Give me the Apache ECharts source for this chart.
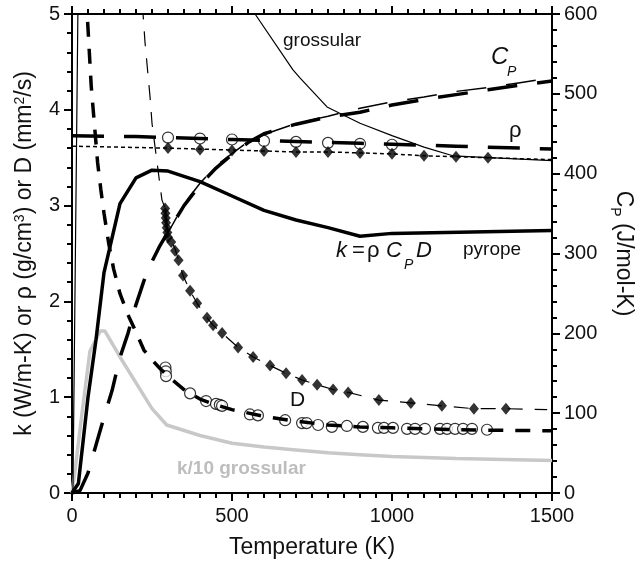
<!DOCTYPE html>
<html>
<head>
<meta charset="utf-8">
<script src="https://cdn.jsdelivr.net/npm/echarts@6/dist/echarts.min.js"></script>
<style>html,body{margin:0;padding:0;background:#fff}#c{width:635px;height:570px}</style>
</head>
<body>
<div id="c"></div>
<script>
// ---- data: [temperature (K), value] ----
const kPyrope = [[0,0],[20,0.1],[50,1.0],[75,1.6],[100,2.3],[150,3.02],[200,3.29],[250,3.37],[300,3.36],[400,3.25],[500,3.1],[600,2.95],[700,2.85],[800,2.77],[900,2.68],[1000,2.71],[1500,2.74]];
const kGrossular = [[0,0],[3,0.05],[19,5.2],[50,14],[100,17],[200,11.5],[300,7.1],[400,6.0],[500,5.4],[572,5.0],[690,4.42],[713,4.33],[797,4.03],[900,3.86],[1000,3.73],[1100,3.61],[1190,3.52],[1500,3.47]];
const kGrossular10 = [[0,0],[10,0.25],[30,0.8],[56,1.48],[88,1.69],[103,1.69],[150,1.42],[200,1.15],[250,0.88],[296,0.71],[400,0.6],[500,0.52],[600,0.48],[700,0.45],[800,0.42],[900,0.4],[1000,0.38],[1200,0.36],[1500,0.34]];
const cpPyrope = [[0,0],[25,3],[50,25],[75,60],[100,95],[125,128],[150,170],[175,200],[200,236],[225,266],[250,290],[275,310],[300,327],[350,360],[400,386],[450,407],[500,424],[550,439],[600,450],[700,462],[800,471],[900,477],[1000,486],[1100,493],[1200,499],[1300,505],[1400,511],[1500,516]];
const cpGrossular = [[300,326],[350,362],[400,388],[450,410],[500,425],[550,440],[600,449],[700,463],[800,472],[900,482],[1000,490],[1100,496],[1200,503],[1300,508],[1400,514],[1500,520]];
const rhoLine = [[0,3.73],[100,3.725],[200,3.72],[300,3.71],[400,3.70],[500,3.69],[600,3.68],[700,3.67],[800,3.66],[900,3.65],[1000,3.64],[1200,3.62],[1500,3.59]];
const rhoCircles = [[300,3.71],[400,3.70],[500,3.69],[600,3.675],[700,3.665],[800,3.655],[900,3.645],[1000,3.635]];
const rhoDotted = [[0,3.62],[300,3.60],[400,3.59],[500,3.58],[600,3.57],[700,3.56],[800,3.56],[900,3.55],[1000,3.54],[1100,3.52],[1200,3.51],[1300,3.50],[1500,3.48]];
const rhoDiamonds = [[300,3.60],[400,3.585],[500,3.575],[600,3.57],[700,3.56],[800,3.56],[900,3.55],[1000,3.54],[1100,3.52],[1200,3.51],[1300,3.50]];
const dThickLine = [[44,5.2],[50,4.85],[60,4.25],[70,3.85],[80,3.45],[90,3.17],[100,2.92],[115,2.6],[130,2.34],[150,2.08],[175,1.86],[200,1.68],[225,1.49],[250,1.39],[275,1.3],[300,1.22],[350,1.08],[400,0.98],[450,0.92],[500,0.87],[600,0.8],[700,0.75],[800,0.71],[900,0.69],[1000,0.68],[1100,0.67],[1200,0.66],[1300,0.655],[1500,0.65]];
const dCircles = [[292,1.31],[293,1.27],[294,1.22],[369,1.04],[419,0.96],[450,0.93],[462,0.92],[469,0.91],[556,0.82],[581,0.81],[666,0.76],[719,0.73],[733,0.73],[769,0.71],[812,0.69],[859,0.70],[909,0.69],[956,0.68],[975,0.68],[1003,0.68],[1047,0.67],[1072,0.67],[1103,0.67],[1150,0.67],[1172,0.67],[1197,0.67],[1222,0.67],[1250,0.67],[1297,0.66]];
const dThinLine = [[220,5.1],[228,4.71],[244,4.13],[250,3.86],[265,3.47],[281,3.06],[291,2.97],[300,2.7],[322,2.55],[347,2.27],[369,2.11],[391,1.98],[422,1.83],[441,1.75],[469,1.67],[519,1.52],[566,1.42],[619,1.33],[669,1.25],[719,1.18],[766,1.13],[816,1.08],[863,1.05],[959,0.97],[1059,0.94],[1156,0.91],[1256,0.88],[1356,0.88],[1485,0.87]];
const dDiamonds = [[291,2.97],[292,2.92],[293,2.87],[294,2.82],[296,2.77],[298,2.72],[300,2.67],[310,2.62],[322,2.53],[333,2.43],[347,2.27],[369,2.11],[391,1.98],[422,1.83],[441,1.75],[469,1.67],[519,1.52],[566,1.42],[619,1.33],[669,1.25],[719,1.18],[766,1.13],[816,1.08],[863,1.05],[959,0.97],[1059,0.94],[1156,0.91],[1256,0.88],[1356,0.88]];

const FONT = '"Liberation Sans", Arial, sans-serif';
const chart = echarts.init(document.getElementById('c'));
function axLine() { return {show: true, onZero: false, lineStyle: {color: '#000', width: 2}}; }
function axTick() { return {show: true, length: 8, lineStyle: {color: '#000', width: 2}}; }
function mTick(n) { return {show: true, splitNumber: n, length: 5, lineStyle: {color: '#000', width: 2}}; }
function axLabel(m) { return {show: true, color: '#111', fontSize: 20, fontFamily: FONT, margin: m, formatter: v => String(v)}; }
function line(id, data, opts) {
  return Object.assign({id: id, type: 'line', data: data, symbol: 'none', smooth: false, animation: false, clip: true,
    lineStyle: {color: '#000', width: 3.5}}, opts);
}
function label(text, left, top, size, extra) {
  return {text: text, left: left, top: top, padding: 0,
    textStyle: Object.assign({fontSize: size, color: '#111', fontFamily: FONT, fontWeight: 'normal'}, extra || {})};
}
chart.setOption({
  animation: false,
  grid: {left: 72, right: 83, top: 14, bottom: 77, outerBoundsMode: 'none'},
  title: [
    label('grossular', 283, 31, 19),
    label('C', 491, 45, 24, {fontStyle: 'italic'}),
    label('P', 507, 65, 14, {fontStyle: 'italic'}),
    label('ρ', 509, 120, 22),
    label('k', 336, 240, 22, {fontStyle: 'italic'}),
    label('=', 352, 240, 22),
    label('ρ', 367, 240, 22),
    label('C', 386, 240, 22, {fontStyle: 'italic'}),
    label('P', 404, 258, 14, {fontStyle: 'italic'}),
    label('D', 416, 240, 22, {fontStyle: 'italic'}),
    label('pyrope', 463, 240, 19),
    label('D', 290, 390, 21),
    label('k/10 grossular', 177, 459, 19, {fontWeight: 'bold', color: '#bdbdbd'})
  ],
  xAxis: [
    {type: 'value', min: 0, max: 1500, interval: 500, position: 'bottom',
      axisLine: axLine(), axisTick: axTick(), minorTick: mTick(10), splitLine: {show: false},
      axisLabel: axLabel(13),
      name: 'Temperature (K)', nameLocation: 'middle', nameGap: 43,
      nameTextStyle: {fontSize: 23, color: '#111', fontFamily: FONT}},
    {type: 'value', min: 0, max: 1500, interval: 500, position: 'top',
      axisLine: axLine(), axisTick: axTick(), minorTick: mTick(10), splitLine: {show: false},
      axisLabel: {show: false}}
  ],
  yAxis: [
    {type: 'value', min: 0, max: 5, interval: 1, position: 'left',
      axisLine: axLine(), axisTick: axTick(), minorTick: mTick(5), splitLine: {show: false},
      axisLabel: axLabel(12),
      name: 'k (W/m-K) or ρ (g/cm{sup|3}) or D (mm{sup|2}/s)', nameLocation: 'middle', nameGap: 36, nameRotate: 90,
      nameTextStyle: {fontSize: 23, color: '#111', fontFamily: FONT,
        rich: {sup: {fontSize: 14, color: '#111', fontFamily: FONT, verticalAlign: 'top', lineHeight: 15, padding: [0, 0, 11, 0]}}}},
    {type: 'value', min: 0, max: 600, interval: 100, position: 'right',
      axisLine: axLine(), axisTick: axTick(), minorTick: mTick(5), splitLine: {show: false},
      axisLabel: axLabel(12),
      name: 'C{sub|P} (J/mol-K)', nameLocation: 'middle', nameGap: 56, nameRotate: -90,
      nameTextStyle: {fontSize: 23, color: '#111', fontFamily: FONT,
        rich: {sub: {fontSize: 14, color: '#111', fontFamily: FONT, padding: [16, 0, 0, 0]}}}}
  ],
  series: [
    line('g10', kGrossular10, {lineStyle: {color: '#c8c8c8', width: 3.5}}),
    line('kg', kGrossular, {lineStyle: {color: '#000', width: 1.2}}),
    line('kp', kPyrope, {lineStyle: {color: '#000', width: 3.5}}),
    line('cp1', cpPyrope, {yAxisIndex: 1, lineStyle: {color: '#000', width: 3.5, type: [30, 20]}}),
    line('cp2', cpGrossular, {yAxisIndex: 1, lineStyle: {color: '#000', width: 1.5, type: [30, 20], dashOffset: 12}}),
    line('rho', rhoLine, {lineStyle: {color: '#000', width: 3.5, type: [32, 20]}}),
    line('rhod', rhoDotted, {lineStyle: {color: '#000', width: 1.5, type: [4, 3]}}),
    line('dk', dThickLine, {lineStyle: {color: '#000', width: 3.5, type: [15, 12]}}),
    line('dt', dThinLine, {lineStyle: {color: '#000', width: 1.2, type: [15, 12]}}),
    {id: 's1', type: 'scatter', data: rhoCircles, symbol: 'circle', symbolSize: 11, animation: false,
      itemStyle: {color: '#fff', borderColor: '#000', borderWidth: 1.2}},
    {id: 's2', type: 'scatter', data: rhoDiamonds, symbol: 'diamond', symbolSize: [10, 12], animation: false,
      itemStyle: {color: '#000'}},
    {id: 's3', type: 'scatter', data: dCircles, symbol: 'circle', symbolSize: 11, animation: false,
      itemStyle: {color: '#fff', borderColor: '#000', borderWidth: 1.2}},
    {id: 's4', type: 'scatter', data: dDiamonds, symbol: 'diamond', symbolSize: [10, 12], animation: false,
      itemStyle: {color: '#000'}}
  ]
});
</script>
</body>
</html>
